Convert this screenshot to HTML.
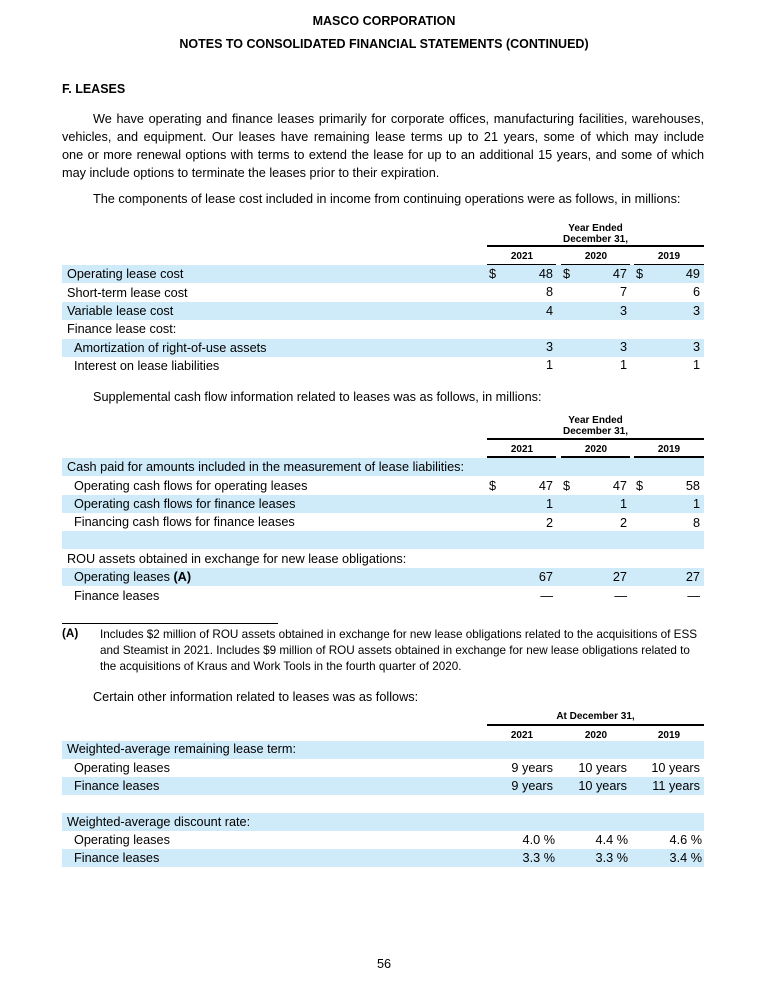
<!DOCTYPE html>
<html><head><meta charset="utf-8"><style>
body{margin:0;width:768px;height:1000px;background:#fff;position:relative;font-family:"Liberation Sans",Arial,sans-serif;font-size:12.7px;color:#000}
div{position:absolute;white-space:nowrap}
.c{left:0;width:768px;text-align:center;font-weight:bold;font-size:12.5px}
.b{font-weight:bold}
.sh{left:62px;width:642px;height:18px;background:#cfeaf8}
.l{line-height:18px}
.r{line-height:18.3px;text-align:right}
.hl{height:1.5px;background:#000}
.yr{font-weight:bold;font-size:10px;text-align:center;width:70px}
.j{left:62px;width:642px;text-align:justify;text-align-last:justify;white-space:normal;line-height:18px}
</style></head><body>
<div class="c" style="top:14px">MASCO CORPORATION</div>
<div class="c" style="top:37px">NOTES TO CONSOLIDATED FINANCIAL STATEMENTS (CONTINUED)</div>
<div class="b" style="left:62px;top:82px;font-size:12.5px">F. LEASES</div>
<div class="j" style="top:110px;left:93px;width:611px">We have operating and finance leases primarily for corporate offices, manufacturing facilities, warehouses,</div>
<div class="j" style="top:128px">vehicles, and equipment. Our leases have remaining lease terms up to 21 years, some of which may include</div>
<div class="j" style="top:146px">one or more renewal options with terms to extend the lease for up to an additional 15 years, and some of which</div>
<div style="top:164px;left:62px;line-height:18px">may include options to terminate the leases prior to their expiration.</div>
<div style="left:93px;top:192px">The components of lease cost included in income from continuing operations were as follows, in millions:</div>

<!-- table 1 -->
<div class="b" style="left:487px;width:217px;text-align:center;top:223px;font-size:10px;line-height:11px">Year Ended<br>December 31,</div>
<div class="hl" style="left:487px;width:217px;top:245px"></div>
<div class="yr" style="left:487px;top:251px">2021</div><div class="yr" style="left:561px;top:251px">2020</div><div class="yr" style="left:634px;top:251px">2019</div>
<div class="hl" style="left:487px;width:69px;top:264px"></div><div class="hl" style="left:561px;width:69px;top:264px"></div><div class="hl" style="left:634px;width:70px;top:264px"></div>
<div class="sh" style="top:265px"></div><div class="sh" style="top:302px"></div><div class="sh" style="top:339px"></div>
<div class="l" style="left:67px;top:265px">Operating lease cost</div>
<div class="l" style="left:67px;top:284px">Short-term lease cost</div>
<div class="l" style="left:67px;top:302px">Variable lease cost</div>
<div class="l" style="left:67px;top:320px">Finance lease cost:</div>
<div class="l" style="left:74px;top:339px">Amortization of right-of-use assets</div>
<div class="l" style="left:74px;top:357px">Interest on lease liabilities</div>
<div class="l" style="left:489px;top:265px">$</div><div class="l" style="left:563px;top:265px">$</div><div class="l" style="left:636px;top:265px">$</div>
<div class="r" style="left:500px;width:53px;top:265px">48<br>8<br>4<br>&nbsp;<br>3<br>1</div>
<div class="r" style="left:574px;width:53px;top:265px">47<br>7<br>3<br>&nbsp;<br>3<br>1</div>
<div class="r" style="left:647px;width:53px;top:265px">49<br>6<br>3<br>&nbsp;<br>3<br>1</div>

<div style="left:93px;top:390px">Supplemental cash flow information related to leases was as follows, in millions:</div>
<!-- table 2 -->
<div class="b" style="left:487px;width:217px;text-align:center;top:415px;font-size:10px;line-height:11px">Year Ended<br>December 31,</div>
<div class="hl" style="left:487px;width:217px;top:438px"></div>
<div class="yr" style="left:487px;top:444px">2021</div><div class="yr" style="left:561px;top:444px">2020</div><div class="yr" style="left:634px;top:444px">2019</div>
<div class="hl" style="left:487px;width:69px;top:456px"></div><div class="hl" style="left:561px;width:69px;top:456px"></div><div class="hl" style="left:634px;width:70px;top:456px"></div>
<div class="sh" style="top:458px"></div><div class="sh" style="top:495px"></div><div class="sh" style="top:531px"></div><div class="sh" style="top:568px"></div>
<div class="l" style="left:67px;top:458px">Cash paid for amounts included in the measurement of lease liabilities:</div>
<div class="l" style="left:74px;top:477px">Operating cash flows for operating leases</div>
<div class="l" style="left:74px;top:495px">Operating cash flows for finance leases</div>
<div class="l" style="left:74px;top:513px">Financing cash flows for finance leases</div>
<div class="l" style="left:67px;top:550px">ROU assets obtained in exchange for new lease obligations:</div>
<div class="l" style="left:74px;top:568px">Operating leases <b>(A)</b></div>
<div class="l" style="left:74px;top:587px">Finance leases</div>
<div class="l" style="left:489px;top:477px">$</div><div class="l" style="left:563px;top:477px">$</div><div class="l" style="left:636px;top:477px">$</div>
<div class="r" style="left:500px;width:53px;top:477px">47<br>1<br>2<br>&nbsp;<br>&nbsp;<br>67<br>—</div>
<div class="r" style="left:574px;width:53px;top:477px">47<br>1<br>2<br>&nbsp;<br>&nbsp;<br>27<br>—</div>
<div class="r" style="left:647px;width:53px;top:477px">58<br>1<br>8<br>&nbsp;<br>&nbsp;<br>27<br>—</div>

<div style="left:62px;top:623px;width:216px;height:1px;background:#000"></div>
<div class="b" style="left:62px;top:627px;font-size:11.7px">(A)</div>
<div style="left:100px;top:627px;width:606px;white-space:normal;font-size:11.7px;line-height:16px">Includes $2 million of ROU assets obtained in exchange for new lease obligations related to the acquisitions of ESS and Steamist in 2021. Includes $9 million of ROU assets obtained in exchange for new lease obligations related to the acquisitions of Kraus and Work Tools in the fourth quarter of 2020.</div>

<div style="left:93px;top:690px">Certain other information related to leases was as follows:</div>
<!-- table 3 -->
<div class="b" style="left:487px;width:217px;text-align:center;top:711px;font-size:10px">At December 31,</div>
<div class="hl" style="left:487px;width:217px;top:724px"></div>
<div class="yr" style="left:487px;top:730px">2021</div><div class="yr" style="left:561px;top:730px">2020</div><div class="yr" style="left:634px;top:730px">2019</div>
<div class="hl" style="left:487px;width:69px;top:741px"></div><div class="hl" style="left:561px;width:69px;top:741px"></div><div class="hl" style="left:634px;width:70px;top:741px"></div>
<div class="sh" style="top:741px"></div><div class="sh" style="top:777px"></div><div class="sh" style="top:813px"></div><div class="sh" style="top:849px"></div>
<div class="l" style="left:67px;top:740px">Weighted-average remaining lease term:</div>
<div class="l" style="left:74px;top:759px">Operating leases</div>
<div class="l" style="left:74px;top:777px">Finance leases</div>
<div class="l" style="left:67px;top:813px">Weighted-average discount rate:</div>
<div class="l" style="left:74px;top:831px">Operating leases</div>
<div class="l" style="left:74px;top:849px">Finance leases</div>
<div class="r" style="left:470px;width:83px;top:759px">9 years<br>9 years</div>
<div class="r" style="left:544px;width:83px;top:759px">10 years<br>10 years</div>
<div class="r" style="left:617px;width:83px;top:759px">10 years<br>11 years</div>
<div class="r" style="left:470px;width:85px;top:831px">4.0 %<br>3.3 %</div>
<div class="r" style="left:544px;width:84px;top:831px">4.4 %<br>3.3 %</div>
<div class="r" style="left:617px;width:85px;top:831px">4.6 %<br>3.4 %</div>

<div style="left:0;width:768px;text-align:center;top:957px">56</div>
</body></html>
